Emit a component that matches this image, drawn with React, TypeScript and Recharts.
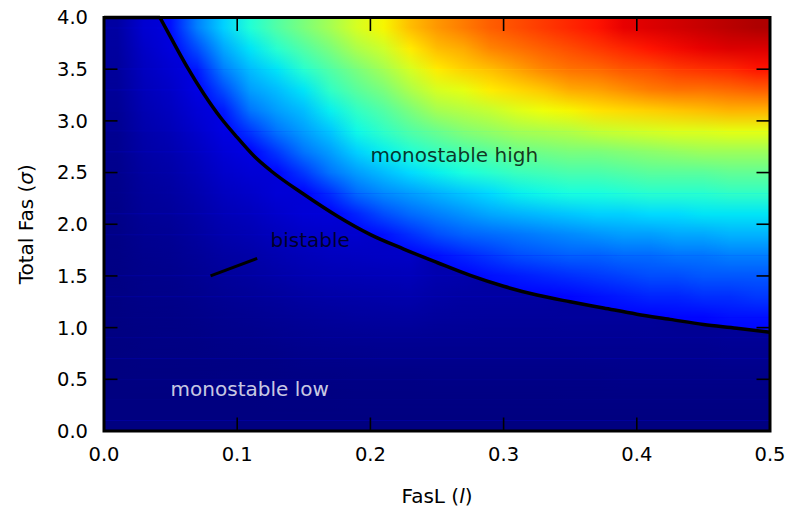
import {
  Area,
  ComposedChart,
  Line,
  ReferenceArea,
  ReferenceDot,
  XAxis,
  YAxis,
} from "recharts";

const FONT = "'DejaVu Sans', 'Bitstream Vera Sans', sans-serif";

// FasL value at the centre of each heat-map column
const lCenters = [
  0.01, 0.03, 0.05, 0.07, 0.09, 0.11, 0.13, 0.15, 0.17, 0.19, 0.21, 0.23, 0.25,
  0.27, 0.29, 0.31, 0.33, 0.35, 0.37, 0.39, 0.41, 0.43, 0.45, 0.47, 0.49,
];

// Total Fas value at the centre of each heat-map row, top row first
const sigmaCenters = [
  3.9, 3.7, 3.5, 3.3, 3.1, 2.9, 2.7, 2.5, 2.3, 2.1, 1.9, 1.7, 1.5, 1.3, 1.1,
  0.9, 0.7, 0.5, 0.3, 0.1,
];

// sigma at which each column jumps from the low to the high branch
const columnSwitch = [
  4.0, 4.0, 3.81, 3.36, 3.0, 2.7, 2.47, 2.29, 2.12, 1.97, 1.84, 1.72, 1.63,
  1.53, 1.44, 1.37, 1.31, 1.25, 1.2, 1.15, 1.11, 1.07, 1.03, 1.0, 0.97,
];

// level of the high branch right at the switch line
const highAtSwitch = 0.12;

// normalised steady-state level of each cell (0..1 on the colour scale)
const heatRows = [
  [0.03, 0.07, 0.14, 0.25, 0.33, 0.39, 0.45, 0.5, 0.55, 0.61, 0.65, 0.71, 0.75, 0.78, 0.81, 0.83, 0.85, 0.87, 0.89, 0.91, 0.92, 0.93, 0.94, 0.95, 0.96],
  [0.027, 0.062, 0.08, 0.2, 0.29, 0.35, 0.4, 0.45, 0.5, 0.56, 0.6, 0.66, 0.71, 0.73, 0.77, 0.79, 0.81, 0.83, 0.85, 0.87, 0.89, 0.9, 0.91, 0.92, 0.92],
  [0.024, 0.055, 0.07, 0.15, 0.25, 0.31, 0.35, 0.4, 0.45, 0.5, 0.55, 0.61, 0.66, 0.69, 0.71, 0.74, 0.77, 0.79, 0.8, 0.82, 0.83, 0.85, 0.86, 0.87, 0.89],
  [0.021, 0.049, 0.062, 0.085, 0.2, 0.28, 0.31, 0.35, 0.41, 0.46, 0.5, 0.56, 0.61, 0.63, 0.66, 0.68, 0.7, 0.73, 0.74, 0.76, 0.78, 0.79, 0.79, 0.8, 0.81],
  [0.018, 0.043, 0.055, 0.075, 0.15, 0.24, 0.28, 0.31, 0.36, 0.41, 0.45, 0.5, 0.55, 0.57, 0.59, 0.62, 0.64, 0.65, 0.67, 0.68, 0.69, 0.7, 0.71, 0.72, 0.72],
  [0.015, 0.037, 0.047, 0.065, 0.085, 0.18, 0.24, 0.28, 0.32, 0.37, 0.41, 0.45, 0.48, 0.51, 0.53, 0.55, 0.56, 0.57, 0.59, 0.6, 0.61, 0.62, 0.62, 0.63, 0.63],
  [0.013, 0.032, 0.04, 0.056, 0.075, 0.085, 0.18, 0.24, 0.28, 0.33, 0.36, 0.39, 0.42, 0.44, 0.46, 0.48, 0.49, 0.5, 0.5, 0.51, 0.52, 0.53, 0.54, 0.54, 0.54],
  [0.011, 0.027, 0.034, 0.048, 0.065, 0.074, 0.13, 0.18, 0.24, 0.28, 0.31, 0.34, 0.36, 0.38, 0.4, 0.42, 0.43, 0.44, 0.44, 0.45, 0.46, 0.46, 0.46, 0.47, 0.47],
  [0.009, 0.023, 0.028, 0.04, 0.055, 0.063, 0.075, 0.12, 0.17, 0.23, 0.26, 0.28, 0.3, 0.32, 0.34, 0.36, 0.37, 0.38, 0.38, 0.39, 0.4, 0.4, 0.4, 0.41, 0.41],
  [0.007, 0.019, 0.023, 0.033, 0.046, 0.053, 0.064, 0.074, 0.075, 0.16, 0.2, 0.23, 0.25, 0.27, 0.29, 0.3, 0.31, 0.32, 0.33, 0.33, 0.34, 0.34, 0.35, 0.35, 0.35],
  [0.006, 0.015, 0.018, 0.027, 0.038, 0.044, 0.053, 0.062, 0.066, 0.068, 0.14, 0.17, 0.2, 0.22, 0.23, 0.24, 0.25, 0.26, 0.27, 0.28, 0.28, 0.29, 0.29, 0.3, 0.3],
  [0.005, 0.012, 0.014, 0.021, 0.03, 0.035, 0.043, 0.05, 0.055, 0.057, 0.06, 0.062, 0.14, 0.16, 0.18, 0.2, 0.21, 0.22, 0.22, 0.23, 0.23, 0.24, 0.24, 0.25, 0.25],
  [0.004, 0.009, 0.011, 0.016, 0.023, 0.027, 0.034, 0.04, 0.044, 0.046, 0.048, 0.05, 0.04, 0.038, 0.14, 0.15, 0.16, 0.17, 0.18, 0.19, 0.2, 0.2, 0.21, 0.21, 0.21],
  [0.003, 0.007, 0.008, 0.012, 0.017, 0.02, 0.025, 0.03, 0.033, 0.035, 0.037, 0.038, 0.032, 0.03, 0.03, 0.03, 0.03, 0.13, 0.14, 0.15, 0.16, 0.16, 0.17, 0.17, 0.18],
  [0.002, 0.005, 0.006, 0.008, 0.012, 0.014, 0.018, 0.021, 0.024, 0.026, 0.027, 0.028, 0.025, 0.024, 0.023, 0.023, 0.023, 0.024, 0.024, 0.024, 0.024, 0.13, 0.13, 0.14, 0.14],
  [0.001, 0.003, 0.004, 0.005, 0.008, 0.009, 0.012, 0.014, 0.016, 0.017, 0.018, 0.018, 0.017, 0.017, 0.016, 0.016, 0.016, 0.017, 0.017, 0.017, 0.018, 0.018, 0.018, 0.019, 0.019],
  [0, 0.002, 0.002, 0.003, 0.004, 0.005, 0.006, 0.008, 0.009, 0.01, 0.011, 0.011, 0.011, 0.011, 0.011, 0.011, 0.011, 0.011, 0.012, 0.012, 0.012, 0.012, 0.012, 0.013, 0.013],
  [0, 0.001, 0.001, 0.001, 0.002, 0.002, 0.003, 0.004, 0.004, 0.005, 0.005, 0.005, 0.006, 0.006, 0.006, 0.006, 0.006, 0.006, 0.006, 0.007, 0.007, 0.007, 0.007, 0.007, 0.007],
  [0, 0, 0, 0, 0, 0, 0.001, 0.001, 0.001, 0.002, 0.002, 0.002, 0.002, 0.002, 0.002, 0.002, 0.002, 0.003, 0.003, 0.003, 0.003, 0.003, 0.003, 0.003, 0.003],
  [0, 0, 0, 0, 0, 0, 0, 0, 0, 0, 0, 0, 0, 0, 0, 0, 0, 0, 0, 0, 0, 0, 0, 0, 0],
];

// critical curve (saddle-node line) bounding the bistable region,
// held at the top of the range for small l
const curveL = [
  0, 0.042, 0.05, 0.0625, 0.075, 0.0876, 0.1, 0.1126, 0.125, 0.15, 0.175, 0.2,
  0.225, 0.25, 0.275, 0.3, 0.325, 0.35, 0.375, 0.4, 0.425, 0.45, 0.475, 0.5,
];
const curveSigma = [
  4.0, 4.0, 3.81, 3.52, 3.26, 3.03, 2.84, 2.66, 2.52, 2.29, 2.08, 1.9, 1.76,
  1.63, 1.505, 1.4, 1.315, 1.25, 1.19, 1.13, 1.08, 1.03, 0.995, 0.955,
];

// pointer from the "bistable" note into the region
const pointerL = [0.08, 0.115];
const pointerSigma = [1.5, 1.67];

const xTicks = [0, 0.1, 0.2, 0.3, 0.4, 0.5];
const yTicks = [0, 0.5, 1, 1.5, 2, 2.5, 3, 3.5, 4];

const L_MIN = xTicks[0];
const L_MAX = xTicks[xTicks.length - 1];
const SIGMA_MIN = yTicks[0];
const SIGMA_MAX = yTicks[yTicks.length - 1];
const TICK_LEN = 13.5;
const TICK_W = 1.6;

const toPoints = (ls: number[], ss: number[]) =>
  ls.map((l, i) => ({ l, s: ss[i] }));

const curvePoints = toPoints(curveL, curveSigma);
// the flat top piece and the falling piece are drawn as separate strokes
const capPoints = curvePoints.slice(0, 2);
const fallPoints = curvePoints.slice(1);

// matplotlib "jet" colour map
const JET: Record<"r" | "g" | "b", number[][]> = {
  r: [[0, 0], [0.35, 0], [0.66, 1], [0.89, 1], [1, 0.5]],
  g: [[0, 0], [0.125, 0], [0.375, 1], [0.64, 1], [0.91, 0], [1, 0]],
  b: [[0, 0.5], [0.11, 1], [0.34, 1], [0.65, 0], [1, 0]],
};

function channel(pts: number[][], v: number) {
  for (let i = 1; i < pts.length; i++) {
    if (v <= pts[i][0]) {
      const [x0, y0] = pts[i - 1];
      const [x1, y1] = pts[i];
      return y0 + ((y1 - y0) * (v - x0)) / (x1 - x0);
    }
  }
  return pts[pts.length - 1][1];
}

function jet(value: number) {
  const v = Math.max(0, Math.min(1, value));
  const c = (k: "r" | "g" | "b") => Math.round(channel(JET[k], v) * 255);
  return `rgb(${c("r")},${c("g")},${c("b")})`;
}

type Stop = { offset: number; color: string };

const isHigh = (r: number, c: number) => sigmaCenters[r] > columnSwitch[c];
const firstLowRow = lCenters.map((_, c) =>
  sigmaCenters.findIndex((_s, r) => !isHigh(r, c))
);

// colour stops along l for every row, one set per branch; cells belonging to
// the other branch repeat the value found next to the switch line
const rowStops = (branch: "high" | "low"): Stop[][] =>
  sigmaCenters.map((_s, r) =>
    lCenters.map((l, c) => {
      let v = heatRows[r][c];
      if (branch === "high" && !isHigh(r, c)) v = highAtSwitch;
      if (branch === "low" && isHigh(r, c)) v = heatRows[firstLowRow[c]][c];
      return { offset: (l - L_MIN) / (L_MAX - L_MIN), color: jet(v) };
    })
  );

const highStops = rowStops("high");
const lowStops = rowStops("low");

// bands between neighbouring row centres: the lower row's gradient underneath,
// the upper row's gradient on top, faded out downwards
type Band = { lo: number; hi: number; base: number; over: number | null };
const bands: Band[] = [
  { lo: sigmaCenters[0], hi: SIGMA_MAX, base: 0, over: null },
  ...sigmaCenters.slice(1).map((s, i) => ({
    lo: s,
    hi: sigmaCenters[i],
    base: i + 1,
    over: i,
  })),
  {
    lo: SIGMA_MIN,
    hi: sigmaCenters[sigmaCenters.length - 1],
    base: sigmaCenters.length - 1,
    over: null,
  },
];

const yFrac = (s: number) => (SIGMA_MAX - s) / (SIGMA_MAX - SIGMA_MIN);

const rectShape = (fill: string, mask?: string) => (p: any) => (
  <rect
    x={p.x}
    y={p.y}
    width={p.width}
    height={p.height}
    fill={fill}
    mask={mask}
    shapeRendering="crispEdges"
  />
);

const Frame = (p: any) => (
  <rect
    x={p.x}
    y={p.y}
    width={p.width}
    height={p.height}
    fill="none"
    stroke="#000"
    strokeWidth={3}
  />
);

// inward tick mark; `note` names the side of the frame it sits on
const TickMark = (props: any) => {
  const { x = 0, y = 0 } = props.viewBox ?? {};
  const half = TICK_W / 2;
  switch (props.note) {
    case "bottom":
      return <rect x={x - half} y={y - TICK_LEN} width={TICK_W} height={TICK_LEN} fill="#000" />;
    case "top":
      return <rect x={x - half} y={y} width={TICK_W} height={TICK_LEN} fill="#000" />;
    case "left":
      return <rect x={x} y={y - half} width={TICK_LEN} height={TICK_W} fill="#000" />;
    default:
      return <rect x={x - TICK_LEN} y={y - half} width={TICK_LEN} height={TICK_W} fill="#000" />;
  }
};

const tickAnchors = [
  ...xTicks.map((l) => ({ l, s: SIGMA_MIN, side: "bottom" })),
  ...xTicks.map((l) => ({ l, s: SIGMA_MAX, side: "top" })),
  ...yTicks.map((s) => ({ l: L_MIN, s, side: "left" })),
  ...yTicks.map((s) => ({ l: L_MAX, s, side: "right" })),
];

const Note = (props: any) => {
  const { x = 0, y = 0 } = props.viewBox ?? {};
  return (
    <text
      x={x}
      y={y}
      fontSize={20}
      fontFamily={FONT}
      fill={props.tone}
      fillOpacity={0.8}
    >
      {props.note}
    </text>
  );
};

const XTitle = (props: any) => {
  const { x = 0, y = 0, width = 0 } = props.viewBox ?? {};
  return (
    <text
      x={x + width / 2}
      y={y + 72}
      textAnchor="middle"
      fontSize={20}
      fontFamily={FONT}
      fill="#000"
    >
      FasL (<tspan fontStyle="italic">l</tspan>)
    </text>
  );
};

const YTitle = (props: any) => {
  const { x = 0, y = 0, height = 0 } = props.viewBox ?? {};
  const cx = x + 33;
  const cy = y + height / 2;
  return (
    <text
      x={cx}
      y={cy}
      transform={`rotate(-90 ${cx} ${cy})`}
      textAnchor="middle"
      fontSize={20}
      fontFamily={FONT}
      fill="#000"
    >
      Total Fas (<tspan fontStyle="italic">σ</tspan>)
    </text>
  );
};

const tickFont = { fontSize: 19.5, fill: "#000", fontFamily: FONT };

const gradientDefs = (prefix: string, stops: Stop[][]) =>
  stops.map((row, r) => (
    <linearGradient key={`${prefix}-${r}`} id={`${prefix}-${r}`} x1="0" y1="0" x2="1" y2="0">
      {row.map((st, i) => (
        <stop key={i} offset={st.offset} stopColor={st.color} />
      ))}
    </linearGradient>
  ));

export default function App() {
  return (
    <div style={{ position: "absolute", left: 0, top: 0, background: "#fff" }}>
      <ComposedChart
        width={788}
        height={512}
        margin={{ top: 17.5, right: 18, bottom: 0, left: 0 }}
        style={{ fontFamily: FONT }}
      >
        <defs>
          {gradientDefs("hi-row", highStops)}
          {gradientDefs("lo-row", lowStops)}
          <linearGradient id="fade-down" x1="0" y1="0" x2="0" y2="1">
            <stop offset={0} stopColor="#fff" stopOpacity={1} />
            <stop offset={1} stopColor="#fff" stopOpacity={0} />
          </linearGradient>
          <mask id="fade-mask" maskContentUnits="objectBoundingBox">
            <rect x={0} y={0} width={1} height={1} fill="url(#fade-down)" />
          </mask>
          {/* low-branch field, laid out over the bounding box of the area under the curve */}
          <pattern
            id="low-field"
            patternUnits="objectBoundingBox"
            patternContentUnits="objectBoundingBox"
            x={0}
            y={0}
            width={1}
            height={1}
          >
            {bands.map((b, i) => (
              <rect
                key={`lb-${i}`}
                x={0}
                y={yFrac(b.hi)}
                width={1}
                height={yFrac(b.lo) - yFrac(b.hi)}
                fill={`url(#lo-row-${b.base})`}
              />
            ))}
            {bands
              .filter((b) => b.over !== null)
              .map((b, i) => (
                <rect
                  key={`lo-${i}`}
                  x={0}
                  y={yFrac(b.hi)}
                  width={1}
                  height={yFrac(b.lo) - yFrac(b.hi)}
                  fill={`url(#lo-row-${b.over})`}
                  mask="url(#fade-mask)"
                />
              ))}
          </pattern>
        </defs>

        <XAxis
          dataKey="l"
          type="number"
          domain={[L_MIN, L_MAX]}
          ticks={xTicks}
          interval={0}
          height={81}
          axisLine={false}
          tickLine={false}
          tickSize={-TICK_LEN}
          tickMargin={29.5}
          tick={tickFont}
          tickFormatter={(v: number) => v.toFixed(1)}
          label={<XTitle />}
        />
        <YAxis
          type="number"
          domain={[SIGMA_MIN, SIGMA_MAX]}
          ticks={yTicks}
          interval={0}
          width={104}
          axisLine={false}
          tickLine={false}
          tickSize={-TICK_LEN}
          tickMargin={29.5}
          tick={tickFont}
          tickFormatter={(v: number) => v.toFixed(1)}
          label={<YTitle />}
        />

        {/* high-branch field over the whole plot */}
        {bands.map((b, i) => (
          <ReferenceArea
            key={`band-${i}`}
            x1={L_MIN}
            x2={L_MAX}
            y1={b.lo}
            y2={b.hi}
            ifOverflow="visible"
            shape={rectShape(`url(#hi-row-${b.base})`)}
          />
        ))}
        {bands
          .filter((b) => b.over !== null)
          .map((b, i) => (
            <ReferenceArea
              key={`band-over-${i}`}
              x1={L_MIN}
              x2={L_MAX}
              y1={b.lo}
              y2={b.hi}
              ifOverflow="visible"
              shape={rectShape(`url(#hi-row-${b.over})`, "url(#fade-mask)")}
            />
          ))}

        {/* everything under the critical curve stays on the low branch */}
        <Area
          data={curvePoints}
          dataKey="s"
          type="monotone"
          baseValue={SIGMA_MIN}
          stroke="none"
          fill="url(#low-field)"
          fillOpacity={1}
          dot={false}
          activeDot={false}
          isAnimationActive={false}
        />

        <ReferenceArea
          x1={L_MIN}
          x2={L_MAX}
          y1={SIGMA_MIN}
          y2={SIGMA_MAX}
          ifOverflow="visible"
          shape={Frame}
        />

        <Line
          data={capPoints}
          dataKey="s"
          type="linear"
          stroke="#000"
          strokeWidth={3.5}
          dot={false}
          activeDot={false}
          isAnimationActive={false}
        />
        <Line
          data={fallPoints}
          dataKey="s"
          type="monotone"
          stroke="#000"
          strokeWidth={3.5}
          dot={false}
          activeDot={false}
          isAnimationActive={false}
        />
        <Line
          data={toPoints(pointerL, pointerSigma)}
          dataKey="s"
          type="linear"
          stroke="#000"
          strokeWidth={3}
          dot={false}
          activeDot={false}
          isAnimationActive={false}
        />

        <ReferenceDot
          x={0.2}
          y={2.6}
          r={0}
          ifOverflow="visible"
          label={<Note note="monostable high" tone="#000" />}
        />
        <ReferenceDot
          x={0.125}
          y={1.78}
          r={0}
          ifOverflow="visible"
          label={<Note note="bistable" tone="#000" />}
        />
        <ReferenceDot
          x={0.05}
          y={0.34}
          r={0}
          ifOverflow="visible"
          label={<Note note="monostable low" tone="#fff" />}
        />

        {tickAnchors.map((t, i) => (
          <ReferenceDot
            key={`tick-${i}`}
            x={t.l}
            y={t.s}
            r={0}
            ifOverflow="visible"
            label={<TickMark note={t.side} />}
          />
        ))}
      </ComposedChart>
    </div>
  );
}
